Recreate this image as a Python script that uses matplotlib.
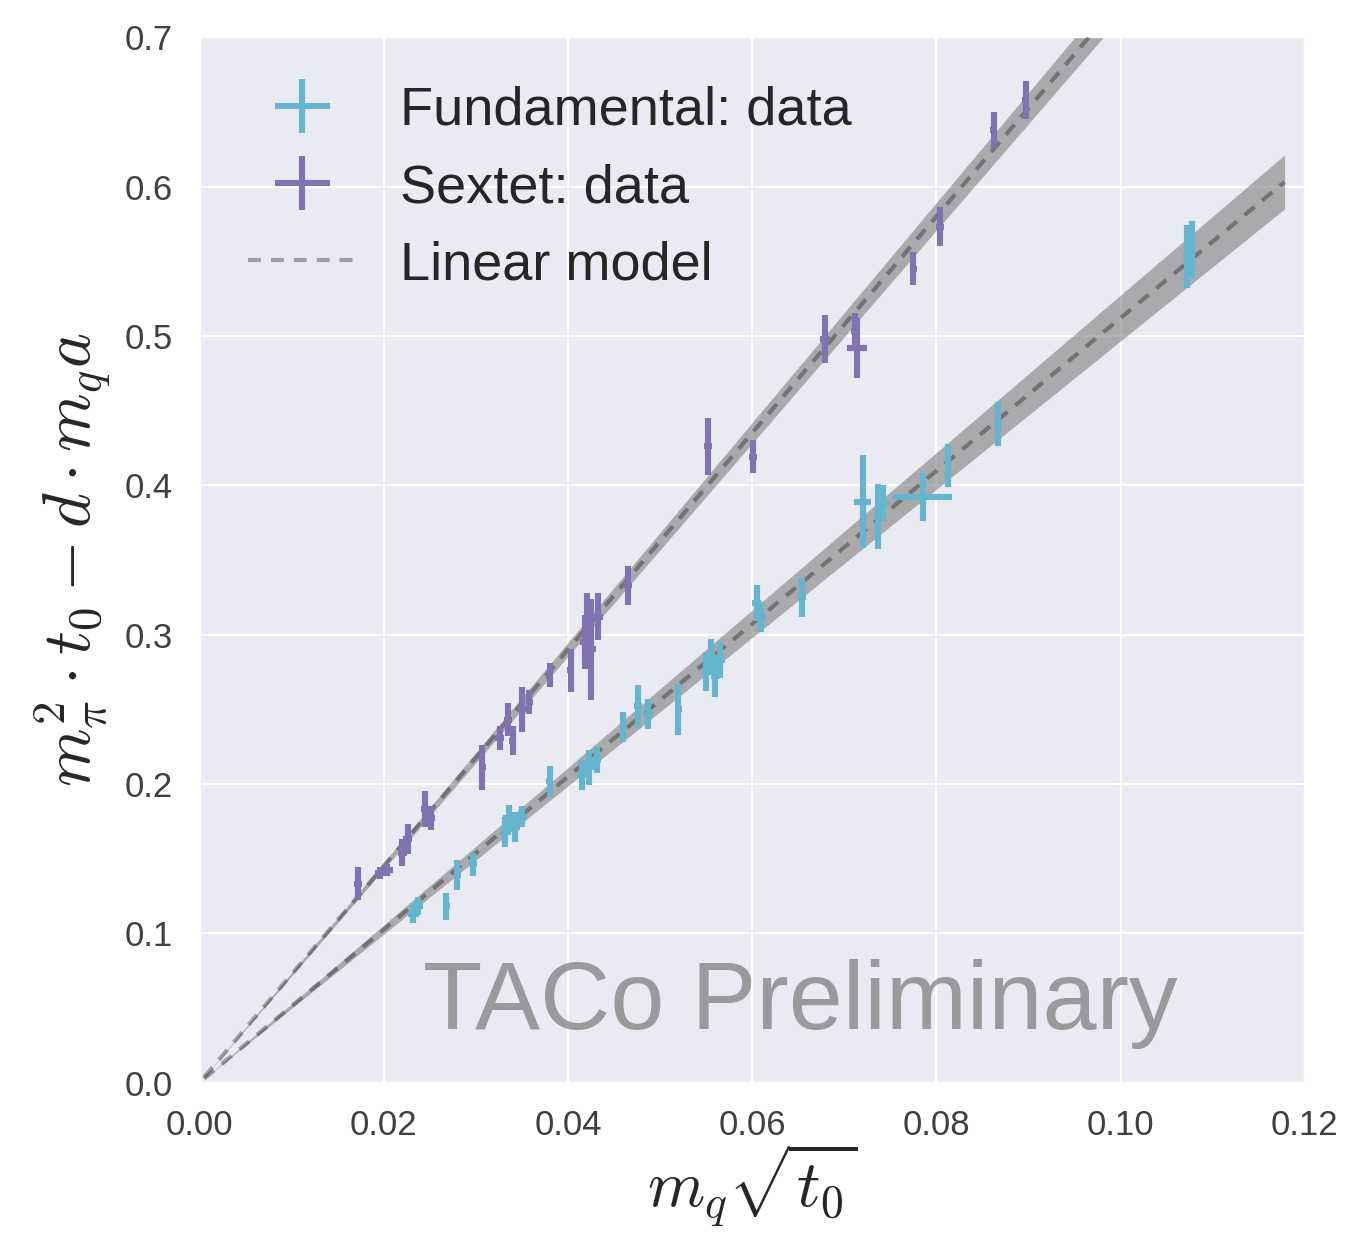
import numpy as np
import matplotlib
matplotlib.use("Agg")
import matplotlib.pyplot as plt
import seaborn as sns

# fundamental rep: x=m_q sqrt(t0), y=m_pi^2 t0 - d m_q a
fund_x = [0.0232, 0.0237, 0.0268, 0.0280, 0.0297, 0.0332, 0.0336, 0.0342, 0.0350,
          0.0380, 0.0415, 0.0423, 0.0431, 0.0460, 0.0476, 0.0487, 0.0520, 0.0550,
          0.0555, 0.0560, 0.0565, 0.0605, 0.0610, 0.0654, 0.0720, 0.0737, 0.0742,
          0.0785, 0.0813, 0.0867, 0.1072, 0.1077]
fund_y = [0.113, 0.118, 0.118, 0.139, 0.146, 0.168, 0.177, 0.171, 0.178,
          0.202, 0.206, 0.211, 0.216, 0.238, 0.252, 0.247, 0.250, 0.275,
          0.285, 0.272, 0.283, 0.321, 0.312, 0.325, 0.389, 0.379, 0.388,
          0.392, 0.413, 0.441, 0.553, 0.558]
fund_yerr = [0.006, 0.006, 0.009, 0.010, 0.008, 0.010, 0.009, 0.010, 0.007,
             0.010, 0.010, 0.012, 0.009, 0.010, 0.0145, 0.010, 0.017, 0.013,
             0.012, 0.014, 0.012, 0.012, 0.010, 0.013, 0.031, 0.022, 0.012,
             0.016, 0.0145, 0.015, 0.021, 0.019]
fund_xerr = [0.0006, 0.0006, 0.0004, 0.0004, 0.0004, 0.0006, 0.0006, 0.0006, 0.0005,
             0.0004, 0.0005, 0.0005, 0.0005, 0.0004, 0.0004, 0.0005, 0.0004, 0.0005,
             0.0005, 0.0005, 0.0005, 0.0005, 0.0005, 0.0004, 0.0009, 0.0005, 0.0006,
             0.0032, 0.0004, 0.0004, 0.0004, 0.0004]

# sextet rep
sext_x = [0.0172, 0.0196, 0.0204, 0.0220, 0.0226, 0.0245, 0.0251, 0.0307, 0.0326,
          0.0335, 0.0340, 0.0350, 0.0358, 0.0380, 0.0403, 0.0418, 0.0421, 0.0425,
          0.0433, 0.0465, 0.0552, 0.0601, 0.0679, 0.0712, 0.0714, 0.0775, 0.0804,
          0.0862, 0.0897]
sext_y = [0.133, 0.140, 0.142, 0.154, 0.163, 0.183, 0.177, 0.211, 0.231,
          0.243, 0.229, 0.250, 0.255, 0.273, 0.276, 0.295, 0.306, 0.290,
          0.312, 0.333, 0.426, 0.419, 0.498, 0.503, 0.492, 0.545, 0.573,
          0.638, 0.658]
sext_yerr = [0.011, 0.004, 0.004, 0.009, 0.010, 0.012, 0.008, 0.015, 0.008,
             0.011, 0.010, 0.015, 0.008, 0.008, 0.0145, 0.018, 0.022, 0.034,
             0.016, 0.013, 0.019, 0.011, 0.016, 0.012, 0.020, 0.011, 0.013,
             0.012, 0.013]
sext_xerr = [0.0004, 0.0006, 0.0006, 0.0005, 0.0005, 0.0004, 0.0005, 0.0004, 0.0005,
             0.0004, 0.0004, 0.0004, 0.0004, 0.0004, 0.0004, 0.0005, 0.0005, 0.0005,
             0.0005, 0.0004, 0.0004, 0.0004, 0.0005, 0.0005, 0.0011, 0.0004, 0.0004,
             0.0004, 0.0004]

# linear model: slope, relative band half-width, x extent
fund_slope, fund_band, fund_xmax = 5.12, 0.03, 0.1178
sext_slope, sext_band, sext_xmax = 7.25, 0.016, 0.1

C_FUND = "#64B5CD"
C_SEXT = "#8172B2"

sns.set_style("darkgrid")
plt.rcParams["font.family"] = ["Liberation Sans", "DejaVu Sans"]
plt.rcParams["mathtext.fontset"] = "cm"

fig = plt.figure(figsize=(6.74, 6.2), dpi=200)
ax = fig.add_axes([0.148, 0.127, 0.820, 0.843])

for slope, band, xmax in [(fund_slope, fund_band, fund_xmax), (sext_slope, sext_band, sext_xmax)]:
    xx = np.linspace(0.0005, xmax, 200)
    yy = slope * xx
    ax.fill_between(xx, yy * (1 - band), yy * (1 + band), color="gray", alpha=0.6, lw=0, zorder=2)
    ln, = ax.plot(xx, yy, color="k", alpha=0.32, lw=1.5, dashes=(3.1, 2.4), zorder=3)

ef = ax.errorbar(fund_x, fund_y, yerr=fund_yerr, xerr=fund_xerr, fmt="none",
                 ecolor=C_FUND, elinewidth=2.2, capsize=0, zorder=4)
es = ax.errorbar(sext_x, sext_y, yerr=sext_yerr, xerr=sext_xerr, fmt="none",
                 ecolor=C_SEXT, elinewidth=2.2, capsize=0, zorder=4)

ax.text(0.0652, 0.036, "TACo Preliminary", color="gray", alpha=0.75, fontsize=35,
        ha="center", va="baseline", zorder=1)

ax.set_xlim(0, 0.12)
ax.set_ylim(0, 0.7)
ax.set_xticks(np.arange(0, 0.121, 0.02))
ax.set_yticks(np.arange(0, 0.71, 0.1))
ax.set_xticklabels([f"{v:.2f}" for v in np.arange(0, 0.121, 0.02)])
ax.set_yticklabels([f"{v:.1f}" for v in np.arange(0, 0.71, 0.1)])
ax.tick_params(labelsize=12.5, colors="0.25", pad=6)
ax.set_xlabel(r"$m_q\sqrt{t_0}$", fontsize=23.5, labelpad=0)
ax.set_ylabel(r"$m_\pi^2\cdot t_0 - d\cdot m_q a$", fontsize=24)

ax.legend([ef, es, ln], ["Fundamental: data", "Sextet: data", "Linear model"],
          loc="upper left", fontsize=19.5, frameon=False)

fig.savefig("out.png", dpi=200)
